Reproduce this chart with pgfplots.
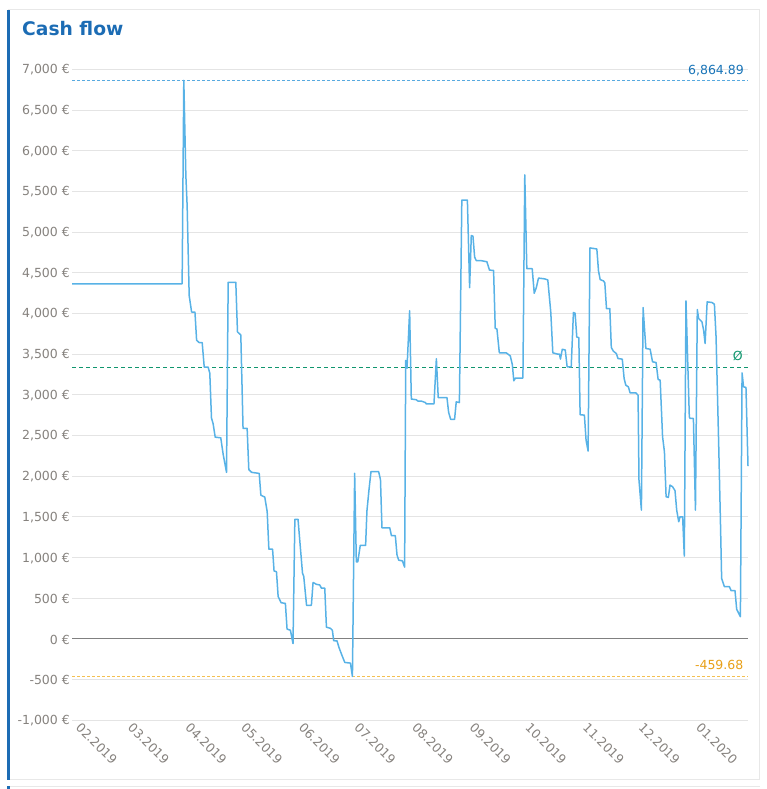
\documentclass[border=0pt]{standalone}
\usepackage{fontspec}
\setmainfont{DejaVu Sans}
\usepackage{pgfplots}
\pgfplotsset{compat=1.18}

\definecolor{series}{RGB}{88,178,230}
\definecolor{titleblue}{RGB}{28,108,180}
\definecolor{gridgray}{RGB}{228,228,228}
\definecolor{zerogray}{RGB}{128,128,128}
\definecolor{labelgray}{RGB}{134,130,126}
\definecolor{maxline}{RGB}{88,170,224}
\definecolor{maxtext}{RGB}{24,116,184}
\definecolor{minline}{RGB}{244,192,80}
\definecolor{mintext}{RGB}{232,160,24}
\definecolor{avgline}{RGB}{16,150,110}
\definecolor{panelgray}{RGB}{232,232,232}

\begin{document}
\begin{tikzpicture}[x=1pt,y=1pt]
\useasboundingbox (0,0) rectangle (766,789);
% panel frame
\draw[panelgray, line width=1pt] (8,9) -- (759.5,9) -- (759.5,779) -- (8,779);
\fill[titleblue] (7,9) rectangle (9.5,779);
\draw[panelgray, line width=1pt] (8,2) -- (759.5,2);
\fill[titleblue] (7,0) rectangle (9.5,3);
\node[anchor=base west, inner sep=0pt, text=titleblue, font=\fontsize{18.7}{22}\selectfont\bfseries] at (22,753.5) {Cash flow};

\begin{axis}[
  at={(72pt,150pt)}, anchor=origin,
  scale only axis, width=676pt, height=651pt,
  xmin=0, xmax=364, ymin=-1000, ymax=7000,
  axis line style={draw=none},
  major tick length=0pt,
  ytick={-1000,-500,0,500,1000,1500,2000,2500,3000,3500,4000,4500,5000,5500,6000,6500,7000},
  yticklabels={{-1,000 €},{-500 €},{0 €},{500 €},{1,000 €},{1,500 €},{2,000 €},{2,500 €},{3,000 €},{3,500 €},{4,000 €},{4,500 €},{5,000 €},{5,500 €},{6,000 €},{6,500 €},{7,000 €}},
  xtick={0,28,59,89,120,150,181,212,242,273,303,334},
  xticklabels={02.2019,03.2019,04.2019,05.2019,06.2019,07.2019,08.2019,09.2019,10.2019,11.2019,12.2019,01.2020},
  ymajorgrids, xmajorgrids=false,
  grid style={gridgray, line width=1pt},
  yticklabel style={anchor=east, inner sep=0pt, xshift=-2pt, yshift=-0.5pt, text=labelgray, font=\fontsize{12.5}{14}\selectfont},
  xticklabel style={inner sep=0pt, xshift=3pt, yshift=-8pt, rotate=-45, anchor=base west, text=labelgray, font=\fontsize{12.5}{14}\selectfont},
  clip=false,
]
% zero line
\addplot[zerogray, line width=1pt] coordinates {(0,0) (364,0)};
% maximum, average and minimum
\addplot[maxline, line width=1pt, dash pattern=on 3pt off 2pt] coordinates {(0,6864.89) (364,6864.89)};
\addplot[avgline, line width=0.8pt, dash pattern=on 4pt off 3pt] coordinates {(0,3337) (364,3337)};
\addplot[minline, line width=1pt, dash pattern=on 3pt off 2pt] coordinates {(0,-459.68) (364,-459.68)};
% balance
\addplot[series, line width=1.5pt, line join=round] coordinates {
(0,4365) (59.3,4365) (60.2,6864.89) (61.3,5700) (62.0,5325) (63.1,4220) (64.4,4018) (66.2,4018) (67.1,3671) (68.5,3642) (70.1,3642) (71.2,3341) (73.3,3341) (74.2,3266) (75.1,2716) (76.0,2645) (77.1,2481) (80.1,2472) (81.4,2269) (83.2,2048) (84.1,4384) (88.2,4384) (89.1,3774) (90.9,3736) (92.1,2589) (94.3,2589) (95.2,2082) (96.7,2048) (100.8,2035) (101.7,1767) (103.8,1744) (105.1,1565) (106.0,1104) (108.0,1104) (108.8,836) (110.1,827) (111.0,522) (112.6,446) (114.9,437) (115.8,122) (117.6,108) (119.0,-56) (120.0,1471) (121.7,1471) (124.1,813) (124.8,766) (126.3,414) (128.9,414) (129.8,695) (131.6,672) (133.4,664) (134.3,625) (136.1,625) (137.0,145) (139.2,131) (140.2,108) (140.9,-21) (142.7,-23) (143.8,-107) (145.6,-215) (146.9,-288) (149.9,-296) (151.0,-459.68) (152.2,2036) (153.1,948) (153.9,948) (155.2,1149) (158.1,1149) (158.8,1572) (159.9,1830) (161.0,2058) (165.1,2058) (166.1,1959) (166.9,1366) (171.1,1366) (172.0,1270) (174.1,1270) (175.0,1034) (175.9,969) (177.9,960) (179.1,883) (179.7,3423) (180.4,3328) (181.8,4034) (182.7,2949) (185.4,2940) (186.3,2923) (188.1,2923) (190.3,2906) (190.8,2888) (194.9,2888) (196.2,3445) (197.2,2966) (201.9,2966) (202.8,2785) (203.9,2699) (206.0,2699) (206.9,2914) (208.6,2906) (209.9,5394) (212.9,5394) (214.1,4318) (215.0,4959) (215.9,4950) (216.8,4693) (217.7,4649) (220.4,4649) (223.4,4636) (224.8,4533) (227.0,4529) (227.9,3818) (228.8,3810) (230.1,3517) (233.8,3517) (236.0,3479) (237.1,3371) (237.9,3173) (238.8,3207) (242.8,3207) (243.8,5704) (244.9,4550) (247.8,4550) (248.9,4249) (250.0,4318) (251.2,4435) (254.4,4426) (256.2,4412) (257.8,4017) (258.9,3517) (261.6,3500) (262.5,3500) (263.0,3440) (264.0,3560) (265.6,3552) (266.6,3345) (268.8,3345) (270.0,4012) (270.9,4003) (271.8,3711) (272.9,3703) (273.6,2756) (275.9,2751) (276.8,2444) (277.9,2309) (278.9,4806) (282.6,4793) (283.5,4523) (284.4,4417) (286.2,4400) (286.9,4376) (287.8,4061) (289.6,4061) (290.4,3582) (291.5,3537) (293.1,3508) (294.0,3447) (296.3,3439) (297.3,3201) (298.2,3119) (299.6,3098) (300.5,3025) (303.6,3025) (304.8,2996) (305.3,1953) (306.6,1584) (307.5,4073) (309.0,3570) (311.3,3561) (312.6,3406) (314.5,3398) (315.6,3189) (316.7,3181) (318.0,2485) (319.0,2300) (319.9,1748) (321.1,1740) (322.0,1891) (323.4,1871) (324.7,1822) (325.6,1584) (326.7,1441) (327.4,1502) (328.8,1502) (329.7,1019) (330.6,4155) (332.4,2730) (332.8,2710) (334.6,2710) (335.7,1584) (336.7,4049) (337.4,3938) (339.2,3897) (340.1,3795) (340.9,3631) (342.0,4143) (344.6,4135) (345.9,4114) (346.8,3713) (348.2,2403) (349.1,1502) (349.8,745) (351.3,643) (354.0,643) (354.9,594) (357.0,594) (357.9,365) (359.9,274) (360.8,3270) (361.6,3099) (362.9,3091) (364.0,2125)
};
% value labels on the reference lines
\node[anchor=base east, inner sep=0pt, text=maxtext, font=\fontsize{12.5}{14}\selectfont] at (axis cs:364,6864.89) [xshift=-4pt, yshift=6pt] {6,864.89};
\node[anchor=base east, inner sep=0pt, text=avgline, font=\fontsize{12.5}{14}\selectfont] at (axis cs:364,3337) [xshift=-5pt, yshift=6.5pt] {Ø};
\node[anchor=base east, inner sep=0pt, text=mintext, font=\fontsize{12.5}{14}\selectfont] at (axis cs:364,-459.68) [xshift=-4.5pt, yshift=6.5pt] {-459.68};
\end{axis}
\end{tikzpicture}
\end{document}
